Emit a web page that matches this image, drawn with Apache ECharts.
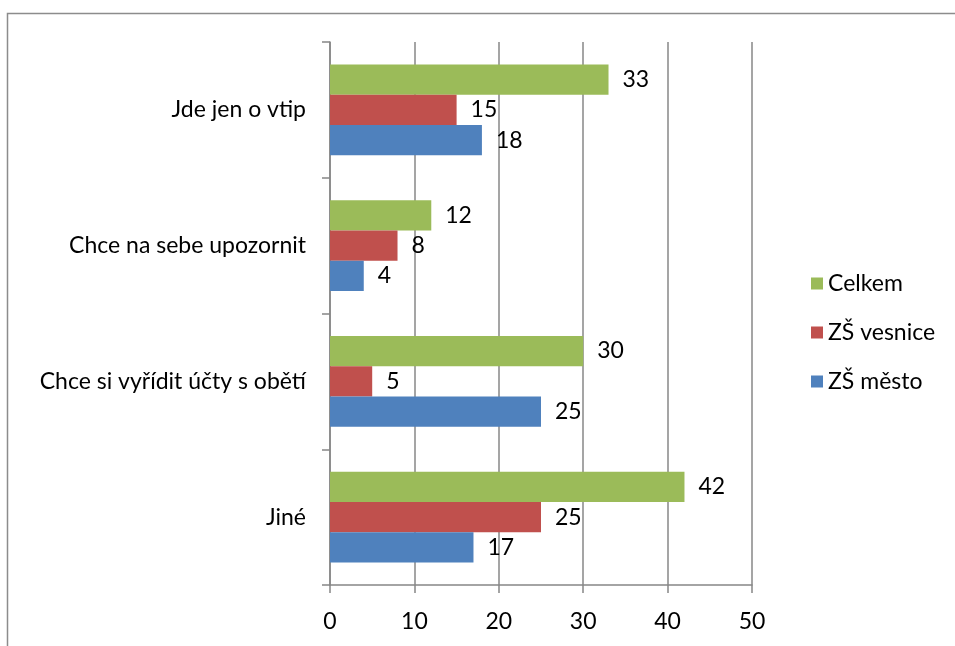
<!DOCTYPE html>
<html>
<head>
<meta charset="utf-8">
<script src="https://cdn.jsdelivr.net/npm/echarts@6/dist/echarts.min.js"></script>
<style>
  html, body { margin: 0; padding: 0; background: #fff; }
  #graph { width: 955px; height: 646px; }
</style>
</head>
<body>
<div id="graph"></div>
<script>
var categories = ['Jiné', 'Chce si vyřídit účty s obětí', 'Chce na sebe upozornit', 'Jde jen o vtip'];
var mesto = [17, 25, 4, 18];
var vesnice = [25, 5, 8, 15];
var celkem = [42, 30, 12, 33];
var xTicks = { min: 0, max: 50, interval: 10 };

var dom = document.getElementById('graph');
var myChart = echarts.init(dom);
var font = 'Lato, "Open Sans", sans-serif';
var gray = '#878787';

var barLabel = {
  show: true,
  position: 'right',
  distance: 14,
  color: '#000',
  fontSize: 23,
  fontFamily: font
};

var option = {
  animation: false,
  textStyle: { fontFamily: font },
  graphic: [{
    type: 'rect',
    shape: { x: 7.5, y: 13.5, width: 1000, height: 700 },
    style: { fill: 'none', stroke: '#8c8c8c', lineWidth: 1.5 },
    silent: true
  }],
  grid: { left: 330, right: 203, top: 42, bottom: 61, containLabel: false },
  legend: {
    orient: 'vertical',
    left: 806,
    top: 267,
    itemWidth: 12,
    itemHeight: 12,
    itemGap: 26,
    icon: 'rect',
    data: ['Celkem', 'ZŠ vesnice', 'ZŠ město'],
    textStyle: { fontSize: 23, color: '#000', fontFamily: font }
  },
  xAxis: {
    type: 'value',
    min: xTicks.min,
    max: xTicks.max,
    interval: xTicks.interval,
    axisLine: { show: true, lineStyle: { color: gray, width: 1.5 } },
    axisTick: { show: true, length: 8, lineStyle: { color: gray, width: 1.5 } },
    splitLine: { show: true, lineStyle: { color: gray, width: 1.5 } },
    axisLabel: { color: '#000', fontSize: 23, margin: 25, fontFamily: font }
  },
  yAxis: {
    type: 'category',
    data: categories,
    axisLine: { show: true, lineStyle: { color: gray, width: 1.5 } },
    axisTick: { show: true, length: 8, lineStyle: { color: gray, width: 1.5 } },
    axisLabel: { color: '#000', fontSize: 23, margin: 24, fontFamily: font }
  },
  series: [
    {
      name: 'Celkem', type: 'bar', data: celkem,
      itemStyle: { color: '#9BBB59' },
      barGap: '0%', barCategoryGap: '33%',
      label: barLabel
    },
    {
      name: 'ZŠ vesnice', type: 'bar', data: vesnice,
      itemStyle: { color: '#C0504D' },
      barGap: '0%', barCategoryGap: '33%',
      label: barLabel
    },
    {
      name: 'ZŠ město', type: 'bar', data: mesto,
      itemStyle: { color: '#4F81BD' },
      barGap: '0%', barCategoryGap: '33%',
      label: barLabel
    }
  ]
};

myChart.setOption(option, true);
</script>
</body>
</html>
